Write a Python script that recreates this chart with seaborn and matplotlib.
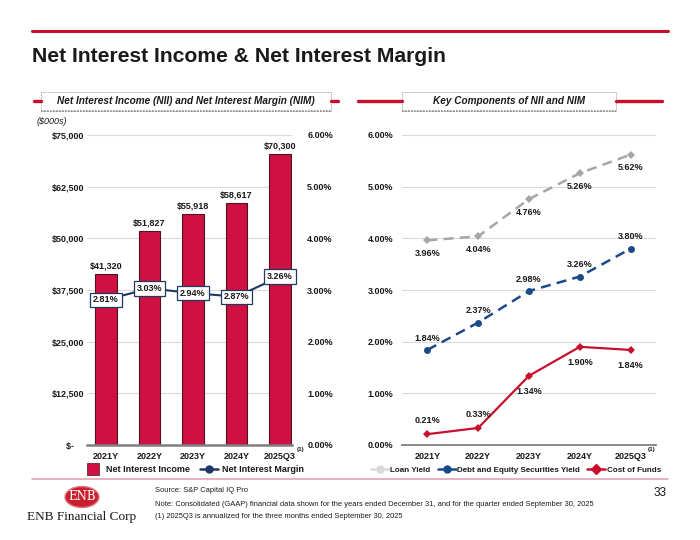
import numpy as np
import pandas as pd
import matplotlib
matplotlib.use("Agg")
import matplotlib.pyplot as plt
import seaborn as sns
from matplotlib.patches import Rectangle, Ellipse
from matplotlib.lines import Line2D

# ---------------- data ----------------
categories = ["2021Y", "2022Y", "2023Y", "2024Y", "2025Q3"]
nii = [41320, 51827, 55918, 58617, 70300]
nim = [2.81, 3.03, 2.94, 2.87, 3.26]
loan_yield = [3.96, 4.04, 4.76, 5.26, 5.62]
sec_yield = [1.84, 2.37, 2.98, 3.26, 3.80]
cost_funds = [0.21, 0.33, 1.34, 1.90, 1.84]
nii_ticks = [0, 12500, 25000, 37500, 50000, 62500, 75000]
nii_tick_labels = ["$-    ", "$12,500", "$25,000", "$37,500", "$50,000", "$62,500", "$75,000"]
pct_ticks = [0, 1, 2, 3, 4, 5, 6]
pct_tick_labels = ["0.00%", "1.00%", "2.00%", "3.00%", "4.00%", "5.00%", "6.00%"]

# ---------------- style ----------------
RED = "#CE1141"
RED_EDGE = "#4A1520"
NAVY = "#1F3864"
BLUE = "#1B4A8A"
GRAY = "#A6A6A6"
LGRAY = "#D9D9D9"
CRIMSON = "#C8102E"
TXT = "#1A1A1A"

sns.set_theme(style="white")
plt.rcParams["font.family"] = ["Liberation Sans", "DejaVu Sans"]

W, H = 700, 540
fig = plt.figure(figsize=(7, 5.4), dpi=100)


def fx(x):
    return x / W


def fy(y):
    return 1 - y / H


TF = fig.transFigure

# ---------------- left chart ----------------
ax = fig.add_axes([fx(87), fy(445), (292 - 87) / W, (445 - 135) / H])
df = pd.DataFrame({"cat": categories, "nii": nii})
sns.barplot(data=df, x="cat", y="nii", color=RED, edgecolor=RED_EDGE,
            linewidth=0.8, width=0.5, saturation=1, ax=ax, zorder=2)
ax.set_ylim(0, 75000)
ax.set_yticks(nii_ticks)
ax.set_yticklabels(nii_tick_labels, fontsize=6.5, fontweight="bold", color=TXT)
ax.set_xticks(range(len(categories)))
ax.set_xticklabels(categories, fontsize=6.5, fontweight="bold", color=TXT)
ax.tick_params(axis="y", length=0, pad=2)
ax.tick_params(axis="x", length=0, pad=5)
ax.set_xlabel("")
ax.set_ylabel("")
ax.yaxis.grid(True, color=LGRAY, lw=0.8)
ax.set_axisbelow(True)
for s in ["left", "right", "top"]:
    ax.spines[s].set_visible(False)
ax.spines["bottom"].set_color("#7F7F7F")
ax.spines["bottom"].set_linewidth(1.8)
ax.spines["bottom"].set_zorder(5)

for i, v in enumerate(nii):
    ax.annotate(f"${v:,.0f}", (i, v), xytext=(0, 2.5), textcoords="offset points",
                ha="center", va="bottom", fontsize=6.5, fontweight="bold", color=TXT)

ax2 = ax.twinx()
sns.lineplot(x=np.arange(len(categories)), y=nim, ax=ax2, color=NAVY, lw=1.5,
             marker="o", markersize=4, markeredgewidth=0, zorder=3)
ax2.set_ylim(0, 6)
ax2.set_yticks(pct_ticks)
ax2.set_yticklabels(pct_tick_labels, fontsize=6.5, fontweight="bold", color=TXT)
ax2.tick_params(axis="y", length=0, pad=11)
ax2.set_ylabel("")
for s in ax2.spines.values():
    s.set_visible(False)
for i, v in enumerate(nim):
    ax2.text(i, v, f"{v:.2f}%", ha="center", va="center", fontsize=6.5,
             fontweight="bold", color=TXT, zorder=6,
             bbox=dict(boxstyle="square,pad=0.3", fc="white", ec=NAVY, lw=0.9))
ax.set_xlim(-0.437, 4.276)

# superscript (1) left
fig.text(fx(296.5), fy(450), "(1)", fontsize=4.5, fontweight="bold", color=TXT,
         ha="left", va="center")

# left legend
h1 = Line2D([], [], marker="s", color="none", markerfacecolor=RED,
            markeredgecolor=RED_EDGE, markeredgewidth=0.5, markersize=8)
h2 = Line2D([], [], color=NAVY, lw=1.8, marker="o", markersize=5)
fig.legend([h1, h2], ["Net Interest Income", "Net Interest Margin"],
           loc="center", bbox_to_anchor=(fx(194), fy(470)), ncol=2, frameon=False,
           prop=dict(size=6.5, weight="bold"), handlelength=2.0,
           columnspacing=1.2, handletextpad=0.4, labelcolor=TXT)

# ---------------- right chart ----------------
ax3 = fig.add_axes([fx(402), fy(445), (656 - 402) / W, (445 - 135) / H])
xpos = np.arange(len(categories))
sns.lineplot(x=xpos, y=loan_yield, ax=ax3, color=GRAY, lw=1.8,
             linestyle=(0, (4, 2.5)), marker="D", markersize=4,
             markeredgewidth=0, zorder=3)
sns.lineplot(x=xpos, y=sec_yield, ax=ax3, color=BLUE, lw=1.8,
             linestyle=(0, (4, 2.5)), marker="o", markersize=5,
             markeredgewidth=0, zorder=3)
sns.lineplot(x=xpos, y=cost_funds, ax=ax3, color=CRIMSON, lw=1.6,
             marker="D", markersize=4, markeredgewidth=0, zorder=3)
ax3.set_xlim(-0.5, 4.5)
ax3.set_ylim(0, 6)
ax3.set_yticks(pct_ticks)
ax3.set_yticklabels(pct_tick_labels, fontsize=6.5, fontweight="bold", color=TXT)
ax3.set_xticks(xpos)
ax3.set_xticklabels(categories, fontsize=6.5, fontweight="bold", color=TXT)
ax3.tick_params(axis="y", length=0, pad=6)
ax3.tick_params(axis="x", length=0, pad=5)
ax3.yaxis.grid(True, color=LGRAY, lw=0.8)
ax3.set_axisbelow(True)
for s in ["left", "right", "top"]:
    ax3.spines[s].set_visible(False)
ax3.spines["bottom"].set_color("#7F7F7F")
ax3.spines["bottom"].set_linewidth(1.3)

for i, v in enumerate(loan_yield):
    ax3.annotate(f"{v:.2f}%", (i, v), xytext=(0, -9.5), textcoords="offset points",
                 ha="center", va="center", fontsize=6.5, fontweight="bold", color=TXT)
for i, v in enumerate(sec_yield):
    ax3.annotate(f"{v:.2f}%", (i, v), xytext=(0, 8.5), textcoords="offset points",
                 ha="center", va="center", fontsize=6.5, fontweight="bold", color=TXT)
cof_off = [9.5, 9.5, -11, -11, -11]
for i, v in enumerate(cost_funds):
    ax3.annotate(f"{v:.2f}%", (i, v), xytext=(0, cof_off[i]), textcoords="offset points",
                 ha="center", va="center", fontsize=6.5, fontweight="bold", color=TXT)

fig.text(fx(648), fy(449), "(1)", fontsize=4.5, fontweight="bold", color=TXT,
         ha="left", va="center")

r1 = Line2D([], [], color=LGRAY, lw=1.8, marker="o", markersize=5)
r2 = Line2D([], [], color=BLUE, lw=1.8, marker="o", markersize=5)
r3 = Line2D([], [], color=CRIMSON, lw=1.8, marker="D", markersize=5)
fig.legend([r1, r2, r3], ["Loan Yield", "Debt and Equity Securities Yield", "Cost of Funds"],
           loc="center", bbox_to_anchor=(fx(516), fy(470)), ncol=3, frameon=False,
           prop=dict(size=5.8, weight="bold"), handlelength=2.2,
           columnspacing=0.9, handletextpad=0.2, labelcolor=TXT)

# ---------------- page decorations ----------------
fig.add_artist(Line2D([fx(32), fx(668)], [fy(31), fy(31)], transform=TF,
                      color=CRIMSON, lw=2.2))
fig.text(fx(32), fy(56), "Net Interest Income & Net Interest Margin", fontsize=15.2,
         fontweight="bold", color=TXT, ha="left", va="center")

# header boxes
def header(x0, x1, lx0, lx1, text, cx):
    fig.add_artist(Line2D([fx(lx0[0]), fx(lx0[1])], [fy(101), fy(101)], transform=TF,
                          color=CRIMSON, lw=2.4))
    fig.add_artist(Line2D([fx(lx1[0]), fx(lx1[1])], [fy(101), fy(101)], transform=TF,
                          color=CRIMSON, lw=2.4))
    fig.add_artist(Rectangle((fx(x0), fy(111)), fx(x1) - fx(x0), (111 - 92) / H,
                             transform=TF, fill=True, fc="white", ec="#8C8C8C",
                             lw=0.6, ls=(0, (1, 1))))
    fig.add_artist(Line2D([fx(x0), fx(x1)], [fy(111.3), fy(111.3)], transform=TF,
                          color="#8C8C8C", lw=1.2, ls=(0, (1, 0.8))))
    fig.text(fx(cx), fy(101), text, fontsize=7.2, fontweight="bold", style="italic",
             color=TXT, ha="center", va="center")


header(41, 331, (34, 41), (331, 338),
       "Net Interest Income (NII) and Net Interest Margin (NIM)", 186)
header(402, 616, (358, 402), (616, 662), "Key Components of NII and NIM", 509)

fig.text(fx(37), fy(121), "($000s)", fontsize=6.5, style="italic", color=TXT,
         ha="left", va="center")

# footer
fig.add_artist(Line2D([fx(32), fx(668)], [fy(479), fy(479)], transform=TF,
                      color="#E3A3B1", lw=1.2))
fig.add_artist(Ellipse((fx(82), fy(497)), 34 / W, 21 / H, transform=TF,
                       fc="#C8202F", ec="#E07A84", lw=1.0))
fig.text(fx(82), fy(497), "ENB", fontsize=8.5, family="DejaVu Serif", color="white",
         ha="center", va="center")
fig.text(fx(82), fy(517), "ENB Financial Corp", fontsize=9.5, family="Liberation Serif",
         color=TXT, ha="center", va="center")
fig.text(fx(155), fy(491), "Source: S&P Capital IQ Pro", fontsize=5.4, color=TXT,
         ha="left", va="center")
fig.text(fx(155), fy(504), "Note: Consolidated (GAAP) financial data shown for the years "
         "ended December 31, and for the quarter ended September 30, 2025",
         fontsize=5.4, color=TXT, ha="left", va="center")
fig.text(fx(155), fy(516), "(1) 2025Q3 is annualized for the three months ended "
         "September 30, 2025", fontsize=5.4, color=TXT, ha="left", va="center")
fig.text(fx(667), fy(493), "33", fontsize=8.5, color=TXT, ha="right", va="center")

fig.savefig("out.png", dpi=100)
